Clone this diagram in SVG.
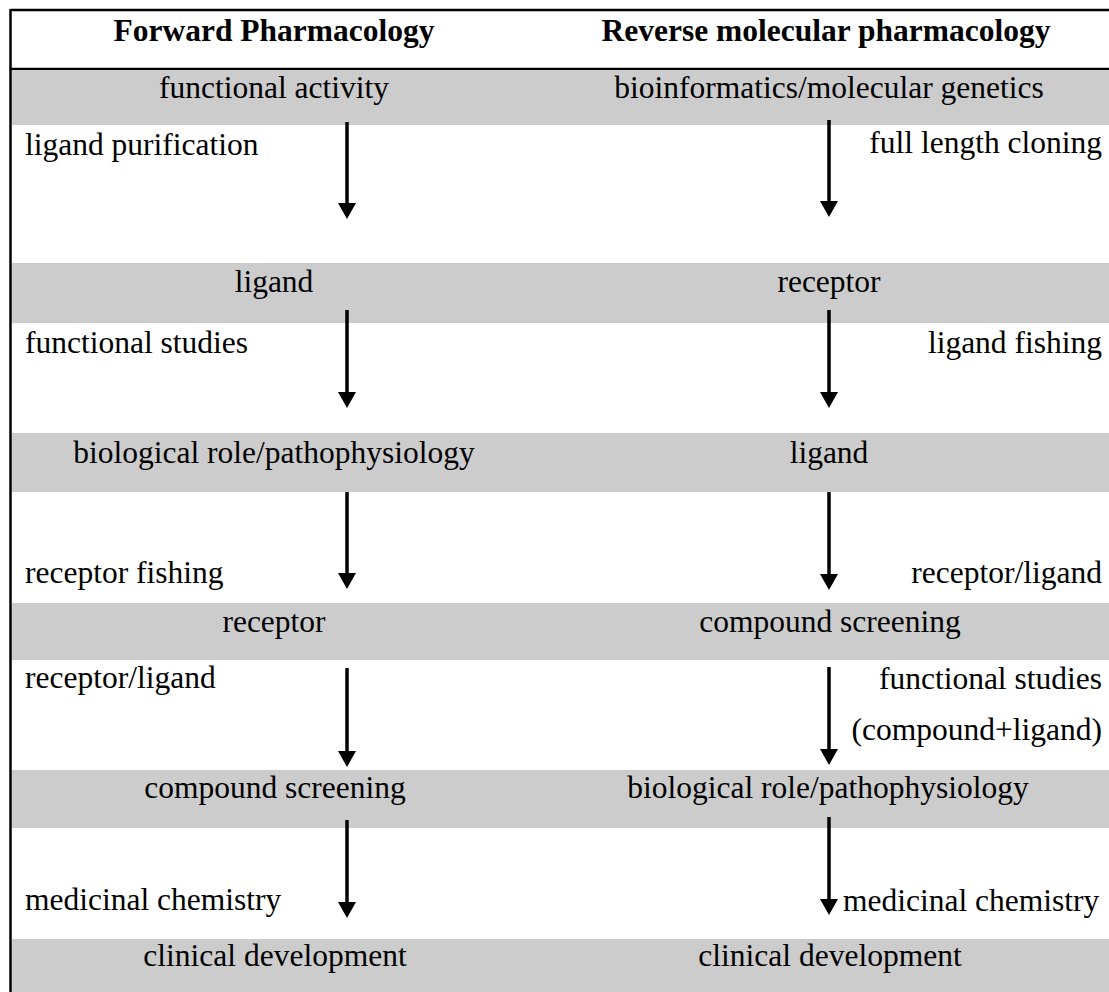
<svg xmlns="http://www.w3.org/2000/svg" width="1109" height="992" viewBox="0 0 1109 992">
<style>
text{font-family:"Liberation Serif","Times New Roman",serif;font-size:31.5px;fill:#000}
.h{font-weight:bold}
.m{text-anchor:middle}
.e{text-anchor:end}
.band{fill:#cccccc}
.rule{stroke:#000;stroke-width:2.5;fill:none}
.arr{stroke:#000;stroke-width:3.5;fill:none;marker-end:url(#ah)}
</style>
<defs>
<marker id="ah" markerUnits="userSpaceOnUse" markerWidth="16" markerHeight="18" viewBox="0 0 16 18" refX="8" refY="9" orient="auto">
<polygon points="0,0 16,9 0,18" fill="#000"/>
</marker>
</defs>
<rect width="1109" height="992" fill="#fff"/>
<g id="frame">
<line class="rule" x1="10.5" y1="10" x2="1109" y2="10"/>
<line class="rule" x1="10.5" y1="69" x2="1109" y2="69"/>
<line class="rule" x1="10.5" y1="9" x2="10.5" y2="992"/>
</g>
<g id="header">
<text class="h m" x="274" y="41">Forward Pharmacology</text>
<text class="h m" x="826" y="41">Reverse molecular pharmacology</text>
</g>
<g id="bands">
<rect class="band" x="12" y="70" width="1097" height="55"/>
<rect class="band" x="12" y="263" width="1097" height="60"/>
<rect class="band" x="12" y="433" width="1097" height="59"/>
<rect class="band" x="12" y="603" width="1097" height="57"/>
<rect class="band" x="12" y="770" width="1097" height="58"/>
<rect class="band" x="12" y="939" width="1097" height="53"/>
</g>
<g id="fwd-functional-activity"><text class="m" x="274" y="98">functional activity</text></g>
<g id="fwd-ligand"><text class="m" x="274" y="292">ligand</text></g>
<g id="fwd-biological-role"><text class="m" x="274" y="463">biological role/pathophysiology</text></g>
<g id="fwd-receptor"><text class="m" x="274" y="632">receptor</text></g>
<g id="fwd-compound-screening"><text class="m" x="275" y="798">compound screening</text></g>
<g id="fwd-clinical-development"><text class="m" x="275" y="966">clinical development</text></g>
<g id="rev-bioinformatics"><text class="m" x="829" y="98">bioinformatics/molecular genetics</text></g>
<g id="rev-receptor"><text class="m" x="829" y="292">receptor</text></g>
<g id="rev-ligand"><text class="m" x="829" y="463">ligand</text></g>
<g id="rev-compound-screening"><text class="m" x="830" y="632">compound screening</text></g>
<g id="rev-biological-role"><text class="m" x="828" y="798">biological role/pathophysiology</text></g>
<g id="rev-clinical-development"><text class="m" x="830" y="966">clinical development</text></g>
<g id="connectors">
<line class="arr" x1="347" y1="122" x2="347" y2="211"/>
<line class="arr" x1="347" y1="310" x2="347" y2="400"/>
<line class="arr" x1="347" y1="492" x2="347" y2="581"/>
<line class="arr" x1="347" y1="668" x2="347" y2="759"/>
<line class="arr" x1="347" y1="820" x2="347" y2="910"/>
<line class="arr" x1="829" y1="120" x2="829" y2="209"/>
<line class="arr" x1="829" y1="310" x2="829" y2="400"/>
<line class="arr" x1="829" y1="492" x2="829" y2="582"/>
<line class="arr" x1="829" y1="667" x2="829" y2="757"/>
<line class="arr" x1="829" y1="817" x2="829" y2="907"/>
<text x="25" y="155">ligand purification</text>
<text x="25" y="353">functional studies</text>
<text x="25" y="583">receptor fishing</text>
<text x="25" y="688">receptor/ligand</text>
<text x="25" y="910">medicinal chemistry</text>
<text class="e" x="1102" y="153">full length cloning</text>
<text class="e" x="1102" y="353">ligand fishing</text>
<text class="e" x="1102" y="583">receptor/ligand</text>
<text class="e" x="1102" y="689">functional studies</text>
<text class="e" x="1102" y="740">(compound+ligand)</text>
<text x="843" y="911">medicinal chemistry</text>
</g>
</svg>
